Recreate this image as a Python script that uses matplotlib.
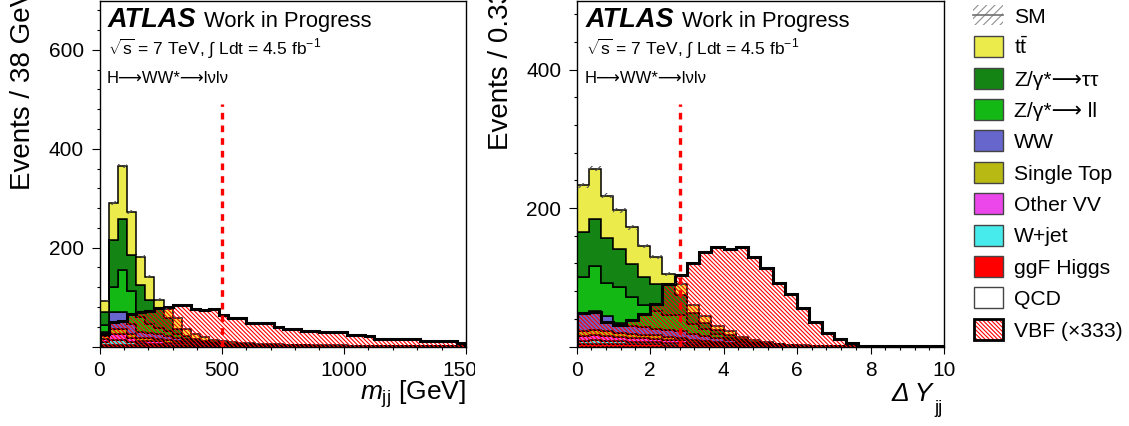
import numpy as np
import matplotlib
matplotlib.use("Agg")
import matplotlib.pyplot as plt
from matplotlib.patches import Rectangle
from matplotlib.ticker import MultipleLocator
from matplotlib.transforms import Bbox

plt.rcParams["font.family"] = ["Liberation Sans", "DejaVu Sans"]
plt.rcParams["mathtext.fontset"] = "custom"
plt.rcParams["mathtext.rm"] = "Liberation Sans"
plt.rcParams["mathtext.it"] = "Liberation Sans:italic"
plt.rcParams["mathtext.bf"] = "Liberation Sans:bold"
plt.rcParams["hatch.linewidth"] = 0.8
plt.rcParams["axes.linewidth"] = 1.0

# ── m_jj panel: 40 bins of 37.5 GeV, 0-1500 GeV ──────────────────────────────
mjj_edges = np.linspace(0, 1500, 41)
tt_mjj = [22, 75, 107, 86, 58, 47, 17, 19, 21, 14,
          9, 7, 5, 3, 3, 2, 2, 2, 1.5, 1.5,
          1, 1, 1, 1, 1, 0.8, 0.8, 0.6, 0.6, 0.5,
          0.5, 0.4, 0.4, 0.3, 0.3, 0.3, 0.2, 0.2, 0.2, 0.2]
ztt_mjj = [27, 95, 103, 74, 64, 49, 40, 25, 11, 6,
           4, 3, 2, 2, 1, 1, 1, 0.8, 0.8, 0.6,
           0.5, 0.5, 0.4, 0.4, 0.3, 0.3, 0.3, 0.2, 0.2, 0.2,
           0.2, 0.1, 0.1, 0.1, 0.1, 0.1, 0.1, 0.1, 0.1, 0.1]
zll_mjj = [14, 50, 85, 67, 30, 17, 12, 10, 7, 4,
           3, 2, 2, 1, 1, 1, 0.8, 0.8, 0.6, 0.5,
           0.5, 0.4, 0.4, 0.3, 0.3, 0.3, 0.2, 0.2, 0.2, 0.2,
           0.1, 0.1, 0.1, 0.1, 0.1, 0.1, 0.1, 0.1, 0.1, 0.1]
ww_mjj = [8, 34, 34, 20, 12, 11, 10, 9, 7, 5,
          4, 3, 2, 2, 1.5, 1.5, 1.2, 1, 1, 0.8,
          0.8, 0.6, 0.6, 0.5, 0.5, 0.4, 0.4, 0.3, 0.3, 0.3,
          0.2, 0.2, 0.2, 0.2, 0.1, 0.1, 0.1, 0.1, 0.1, 0.1]
st_mjj = [6, 10, 10, 8, 6, 6, 5, 5, 4, 3,
          2, 2, 1, 1, 0.8, 0.6, 0.6, 0.5, 0.4, 0.4,
          0.3, 0.3, 0.2, 0.2, 0.2, 0.2, 0.1, 0.1, 0.1, 0.1,
          0.1, 0.1, 0.1, 0.1, 0.1, 0.1, 0.1, 0.1, 0.1, 0.1]
vv_mjj = [6, 13, 13, 8, 5, 5, 5, 4, 3, 2,
          1, 1, 1, 0.5, 0.5, 0.4, 0.4, 0.3, 0.3, 0.2,
          0.2, 0.2, 0.2, 0.1, 0.1, 0.1, 0.1, 0.1, 0.1, 0.1,
          0.1, 0.1, 0.1, 0.1, 0.1, 0.1, 0.1, 0.1, 0.1, 0.1]
wjet_mjj = [5, 9, 9, 5, 4, 3, 3, 2, 2, 1,
            1, 0.5, 0.5, 0.4, 0.3, 0.3, 0.2, 0.2, 0.2, 0.1,
            0.1, 0.1, 0.1, 0.1, 0.1, 0.1, 0.1, 0.1, 0.1, 0.1,
            0.1, 0.1, 0.1, 0.1, 0.1, 0.1, 0.1, 0.1, 0.1, 0.1]
ggf_mjj = [4, 4, 4, 4, 3, 3, 3, 2, 2, 1,
           1, 0.5, 0.5, 0.4, 0.4, 0.3, 0.3, 0.3, 0.2, 0.2,
           0.2, 0.2, 0.2, 0.1, 0.1, 0.1, 0.1, 0.1, 0.1, 0.1,
           0.1, 0.1, 0.1, 0.1, 0.1, 0.1, 0.1, 0.1, 0.1, 0.1]
vbf_mjj = [26, 50, 52, 66, 70, 72, 78, 80, 83, 83,
           75, 74, 75, 64, 57, 57, 47, 47, 47, 40,
           36, 36, 31, 31, 30, 30, 30, 23, 23, 21,
           16, 16, 16, 16, 16, 11, 11, 11, 11, 7]
mjj_cut = 500

# ── Delta Y_jj panel: 30 bins of 0.33, 0-10 ──────────────────────────────────
dy_edges = np.linspace(0, 10, 31)
tt_dy = [67, 73, 61, 56, 53, 45, 38, 14, 15, 12,
         10, 6, 5, 3, 2, 1.5, 1, 0.5, 0.3, 0.2,
         0.1, 0.1, 0.05, 0.05, 0, 0, 0, 0, 0, 0]
ztt_dy = [66, 67, 65, 55, 48, 40, 39, 46, 30, 16,
          9, 6, 4, 3, 2, 1, 0.6, 0.4, 0.3, 0.2,
          0.1, 0.1, 0.05, 0.05, 0, 0, 0, 0, 0, 0]
zll_dy = [51, 65, 48, 52, 41, 32, 26, 21, 23, 14,
          10, 6, 4, 2, 1, 0.9, 0.6, 0.4, 0.2, 0.1,
          0.1, 0.05, 0.05, 0, 0, 0, 0, 0, 0, 0]
ww_dy = [27, 28, 22, 14, 12, 11, 10, 10, 9, 8,
         7, 5, 4, 2.5, 1.5, 1, 0.7, 0.5, 0.3, 0.2,
         0.1, 0.1, 0.05, 0.05, 0, 0, 0, 0, 0, 0]
st_dy = [7, 7, 7, 6, 5, 5, 5, 4, 4, 3,
         3, 2, 2, 1, 1, 0.6, 0.4, 0.3, 0.2, 0.1,
         0.05, 0.05, 0, 0, 0, 0, 0, 0, 0, 0]
vv_dy = [7, 8, 7, 6, 6, 5, 5, 5, 4, 3,
         2, 2, 1.5, 1, 0.7, 0.4, 0.3, 0.2, 0.1, 0.1,
         0.05, 0.05, 0, 0, 0, 0, 0, 0, 0, 0]
wjet_dy = [5, 6, 5, 5, 4, 4, 3, 3, 3, 2,
           1.5, 1.5, 1, 1, 0.5, 0.3, 0.2, 0.1, 0.1, 0.05,
           0, 0, 0, 0, 0, 0, 0, 0, 0, 0]
ggf_dy = [3, 3, 3, 3, 3, 3, 3, 2, 2, 2,
          1.5, 1.5, 0.5, 0.5, 0.3, 0.3, 0.2, 0.1, 0.1, 0.05,
          0, 0, 0, 0, 0, 0, 0, 0, 0, 0]
vbf_dy = [48, 50, 35, 31, 38, 47, 62, 90, 103, 121,
          136, 144, 141, 144, 130, 114, 92, 76, 55, 35,
          20, 10.5, 4.5, 1.2, 0.5, 0.3, 0.2, 0.1, 0.1, 0.1]
dy_cut = 2.8

# ── styles (stack order bottom -> top) ───────────────────────────────────────
COLORS = {
    "ggf": "#ff0000", "wjet": "#47ebeb", "vv": "#eb47eb", "st": "#b9b914",
    "ww": "#6666cc", "zll": "#14b814", "ztt": "#148414", "tt": "#ebeb4b",
}
STACK_KEYS = ["ggf", "wjet", "vv", "st", "ww", "zll", "ztt", "tt"]
HATCH_VBF = "\\" * 8
ARROW = "\u27f6"   # long arrow, comes from DejaVu Sans

W, H = 1129, 426
fig = plt.figure(figsize=(W / 100, H / 100), dpi=100)


def px_axes(x0, x1, y0, y1):
    return fig.add_axes([x0 / W, 1 - y1 / H, (x1 - x0) / W, (y1 - y0) / H])


def draw_panel(ax, edges, comps, vbf, cut, ymax):
    base = np.zeros(len(edges) - 1)
    for key in STACK_KEYS:
        top = base + np.asarray(comps[key], dtype=float)
        ax.stairs(top, edges, baseline=base, fill=True, facecolor=COLORS[key],
                  edgecolor="black", linewidth=1.1, zorder=2)
        base = top
    vbf = np.asarray(vbf, dtype=float)
    ax.stairs(vbf, edges, fill=True, facecolor="none", edgecolor="red",
              hatch=HATCH_VBF, linewidth=0, zorder=3)
    ax.stairs(vbf, edges, color="black", linewidth=2.2, zorder=4)
    # MC stat band on the SM total
    err = 0.25 * np.sqrt(base)
    centers = 0.5 * (edges[1:] + edges[:-1])
    ax.bar(centers, 2 * err, bottom=base - err, width=np.diff(edges),
           fill=False, hatch="////", edgecolor="#555555", linewidth=0, zorder=5)
    ax.vlines(cut, 0, 0.7 * ymax, colors="red", linestyles=(0, (2, 1.8)),
              linewidth=2.4, zorder=6)
    ax.set_xlim(edges[0], edges[-1])
    ax.set_ylim(0, ymax)
    ax.tick_params(which="both", direction="out", top=False, right=False,
                   labelsize=15, width=0.8)
    ax.tick_params(axis="y", which="major", length=5.8, pad=5.4)
    ax.tick_params(axis="x", which="major", length=5.0, pad=5.4)
    ax.tick_params(which="minor", length=2.5)


ax1 = px_axes(99.5, 466, 0.5, 346.5)
draw_panel(ax1, mjj_edges,
           dict(tt=tt_mjj, ztt=ztt_mjj, zll=zll_mjj, ww=ww_mjj, st=st_mjj,
                vv=vv_mjj, wjet=wjet_mjj, ggf=ggf_mjj),
           vbf_mjj, mjj_cut, 700)
ax1.set_xticks([0, 500, 1000, 1500], ["0", "500", "1000", "1500"])
ax1.xaxis.set_minor_locator(MultipleLocator(100))
ax1.set_yticks([0, 200, 400, 600], ["", "200", "400", "600"])
ax1.yaxis.set_minor_locator(MultipleLocator(40))
# the left pad ends before the last tick label does
for t in ax1.xaxis.get_major_ticks():
    t.label1.set_clip_box(Bbox.from_extents(0, 0, 475, H))
    t.label1.set_clip_on(True)

ax2 = px_axes(576.7, 944, 0.5, 346.5)
draw_panel(ax2, dy_edges,
           dict(tt=tt_dy, ztt=ztt_dy, zll=zll_dy, ww=ww_dy, st=st_dy,
                vv=vv_dy, wjet=wjet_dy, ggf=ggf_dy),
           vbf_dy, dy_cut, 500)
ax2.set_xticks([0, 2, 4, 6, 8, 10], ["0", "2", "4", "6", "8", "10"])
ax2.xaxis.set_minor_locator(MultipleLocator(0.4))
ax2.set_yticks([0, 200, 400], ["", "200", "400"])
ax2.yaxis.set_minor_locator(MultipleLocator(40))

# full-figure pixel axes on top, for legend and free text
lax = fig.add_axes([0, 0, 1, 1])
lax.set_xlim(0, W)
lax.set_ylim(H, 0)
lax.axis("off")
lax.set_zorder(10)

# ── axis titles ──────────────────────────────────────────────────────────────
lax.text(30, 190, "Events / 38 GeV", rotation=90, rotation_mode="anchor",
         ha="left", va="baseline", fontsize=20)
lax.text(508, 150, "Events / 0.33", rotation=90, rotation_mode="anchor",
         ha="left", va="baseline", fontsize=20)
lax.text(466, 400, r"$m_{\mathrm{jj}}$ [GeV]", ha="right", va="baseline",
         fontsize=19)
lax.text(943, 413, "jj", ha="right", va="baseline", fontsize=13)
lax.text(933, 401, "Δ Y", ha="right", va="baseline", fontsize=19,
         style="italic")

# ── ATLAS labels ─────────────────────────────────────────────────────────────
for x0 in (108, 586):
    lax.text(x0, 27, "ATLAS", fontsize=19.5, weight="bold", style="italic",
             va="baseline")
    lax.text(x0 + 96.5, 27, "Work in Progress", fontsize=15.8, va="baseline")
    lax.text(x0, 55, r"$\sqrt{\mathrm{s}}$ = 7 TeV, $\int$ Ldt = 4.5 fb$^{-1}$",
             fontsize=12.5, va="baseline")
    lax.text(x0 - 1, 83, f"H{ARROW}WW*{ARROW}lνlν", fontsize=12, va="baseline")

# ── legend ───────────────────────────────────────────────────────────────────
legend_rows = [
    ("SM", None),
    (r"$\mathrm{t\bar{t}}$", "tt"),
    (f"Z/γ*{ARROW}ττ", "ztt"),
    (f"Z/γ*{ARROW} ll", "zll"),
    ("WW", "ww"),
    ("Single Top", "st"),
    ("Other VV", "vv"),
    ("W+jet", "wjet"),
    ("ggF Higgs", "ggf"),
    ("QCD", "qcd"),
    ("VBF (×333)", "vbf"),
]
row0, step = 15.3, 31.4
bx, bw, bh = 974, 29, 21
for i, (label, key) in enumerate(legend_rows):
    yc = row0 + i * step
    if key is None:
        lax.add_patch(Rectangle((bx - 1, yc - 10), bw + 1, 20, fill=False,
                                hatch="////", edgecolor="#909090", linewidth=0))
        lax.plot([bx - 1, bx + bw], [yc, yc], color="#707070", linewidth=1.2)
    elif key == "vbf":
        lax.add_patch(Rectangle((bx, yc - bh / 2), bw, bh, facecolor="white",
                                hatch=HATCH_VBF, edgecolor="red", linewidth=0))
        lax.add_patch(Rectangle((bx, yc - bh / 2), bw, bh, fill=False,
                                edgecolor="black", linewidth=2.0))
    else:
        lax.add_patch(Rectangle((bx, yc - bh / 2), bw, bh,
                                facecolor=COLORS.get(key, "white"),
                                edgecolor="#444444", linewidth=1.0))
    lax.text(1014, yc + 7.4, label, fontsize=15.2, va="baseline", ha="left")

fig.savefig("out.png", dpi=100)
